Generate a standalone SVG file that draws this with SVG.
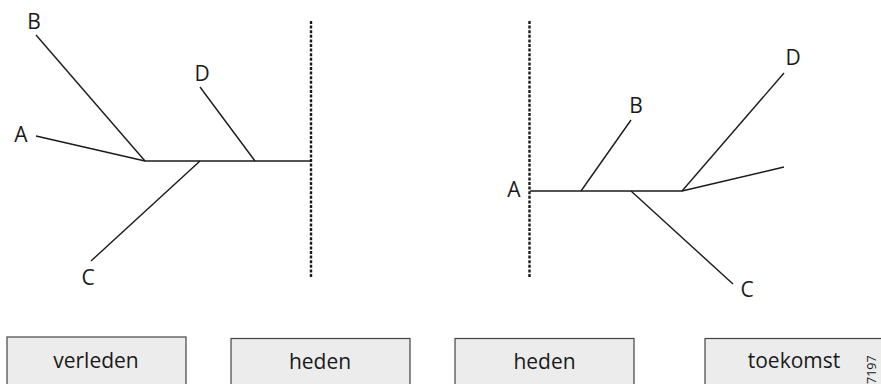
<svg xmlns="http://www.w3.org/2000/svg" width="881" height="384" viewBox="0 0 881 384">
<style>
.ln{stroke:#1a1a1a;stroke-width:1.4;fill:none;stroke-linecap:butt}
.dash{stroke:#1a1a1a;stroke-width:2.4;stroke-dasharray:3 1.6;fill:none}
.lbl{font-family:"Open Sans","Liberation Sans",Arial,sans-serif;font-size:21px;fill:#1a1a1a;text-anchor:middle}
.box{fill:#ececec;stroke:#444;stroke-width:1.2}
.bt{font-family:"Open Sans","Liberation Sans",Arial,sans-serif;font-size:21px;fill:#1a1a1a;text-anchor:middle}
</style>
<g id="past-tree">
  <line class="dash" x1="311" y1="21" x2="311" y2="278"/>
  <g id="connectors-left">
    <line class="ln" x1="36" y1="35" x2="145" y2="161"/>
    <line class="ln" x1="36" y1="136" x2="145" y2="161"/>
    <line class="ln" x1="145" y1="161" x2="311" y2="161"/>
    <line class="ln" x1="200" y1="87" x2="255" y2="161"/>
    <line class="ln" x1="91" y1="261" x2="200" y2="161"/>
  </g>
  <g id="left-B"><text class="lbl" x="34" y="28.5">B</text></g>
  <g id="left-A"><text class="lbl" x="21" y="142">A</text></g>
  <g id="left-D"><text class="lbl" x="202" y="81">D</text></g>
  <g id="left-C"><text class="lbl" x="88" y="285">C</text></g>
</g>
<g id="future-tree">
  <line class="dash" x1="529.5" y1="21" x2="529.5" y2="278"/>
  <g id="connectors-right">
    <line class="ln" x1="530" y1="191" x2="682" y2="191"/>
    <line class="ln" x1="581" y1="191" x2="631" y2="120"/>
    <line class="ln" x1="631" y1="191" x2="733" y2="284"/>
    <line class="ln" x1="682" y1="191" x2="784" y2="73"/>
    <line class="ln" x1="682" y1="191" x2="784" y2="167"/>
  </g>
  <g id="right-A"><text class="lbl" x="514" y="197">A</text></g>
  <g id="right-B"><text class="lbl" x="636" y="112.5">B</text></g>
  <g id="right-D"><text class="lbl" x="793" y="65">D</text></g>
  <g id="right-C"><text class="lbl" x="747" y="296.5">C</text></g>
</g>
<g id="box-verleden">
  <rect class="box" x="7" y="337" width="179" height="60"/>
  <text class="bt" x="96" y="368">verleden</text>
</g>
<g id="box-heden-1">
  <rect class="box" x="231" y="338.5" width="179" height="60"/>
  <text class="bt" x="320" y="369">heden</text>
</g>
<g id="box-heden-2">
  <rect class="box" x="455" y="338.5" width="179" height="60"/>
  <text class="bt" x="544.5" y="369">heden</text>
</g>
<g id="box-toekomst">
  <rect class="box" x="705" y="338.5" width="190" height="60"/>
  <text class="bt" x="794" y="368">toekomst</text>
</g>
<text x="875.5" y="384" transform="rotate(-90 875.5 384)" font-family="'Open Sans','Liberation Sans',Arial,sans-serif" font-size="12.5" fill="#1a1a1a">7197</text>
</svg>
